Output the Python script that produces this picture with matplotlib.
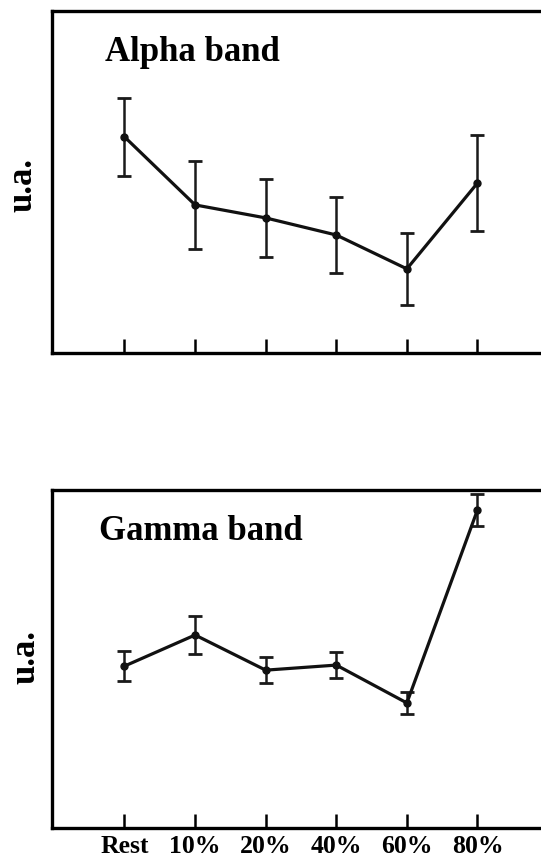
import matplotlib.pyplot as plt

plt.rcParams['font.family'] = ['Liberation Serif', 'DejaVu Serif']
plt.rcParams['font.weight'] = 'bold'

conditions = ['Rest', '10%', '20%', '40%', '60%', '80%']

alpha_mean = [6.32, 4.33, 3.95, 3.45, 2.46, 4.97]
alpha_err = [1.13, 1.29, 1.14, 1.11, 1.05, 1.40]

gamma_mean = [4.79, 5.71, 4.67, 4.82, 3.70, 9.41]
gamma_err = [0.44, 0.56, 0.38, 0.38, 0.33, 0.47]

W, H = 541, 857
fig = plt.figure(figsize=(W / 100, H / 100), dpi=100)

# axes boxes in pixels: left, top, bottom (right edge runs off the figure)
panels = [
    (52, 11, 353, alpha_mean, alpha_err, 'Alpha band', (0.108, 0.88), 23, 185),
    (52, 490, 828, gamma_mean, gamma_err, 'Gamma band', (0.096, 0.876), 26, 657),
]

x = list(range(len(conditions)))
for i, (left, top, bottom, mean, err, title, tpos, lx, ly) in enumerate(panels):
    ax = fig.add_axes([left / W, 1 - bottom / H, 1 - left / W, (bottom - top) / H])
    ax.errorbar(x, mean, yerr=err, color='#111111', lw=2.3, marker='o', ms=5,
                elinewidth=1.8, ecolor='#1a1a1a', capsize=5, capthick=2)
    ax.set_xlim(-1.027, 5.90)
    ax.set_ylim(0, 10)
    ax.set_yticks([])
    ax.set_xticks(x)
    ax.tick_params(axis='x', direction='in', length=10, width=1.8, pad=5,
                   labelsize=18.5, top=False)
    if i == 0:
        ax.set_xticklabels([])
    else:
        ax.set_xticklabels(conditions, fontweight='bold')
    for s in ['left', 'top', 'bottom']:
        ax.spines[s].set_linewidth(2.4)
    ax.spines['right'].set_visible(False)
    ax.text(tpos[0], tpos[1], title, transform=ax.transAxes, fontsize=25,
            fontweight='bold', ha='left', va='center')
    fig.text(lx / W, 1 - ly / H, 'u.a.', rotation=90, fontsize=25,
             fontweight='bold', ha='center', va='center')

fig.savefig('out.png', dpi=100)
